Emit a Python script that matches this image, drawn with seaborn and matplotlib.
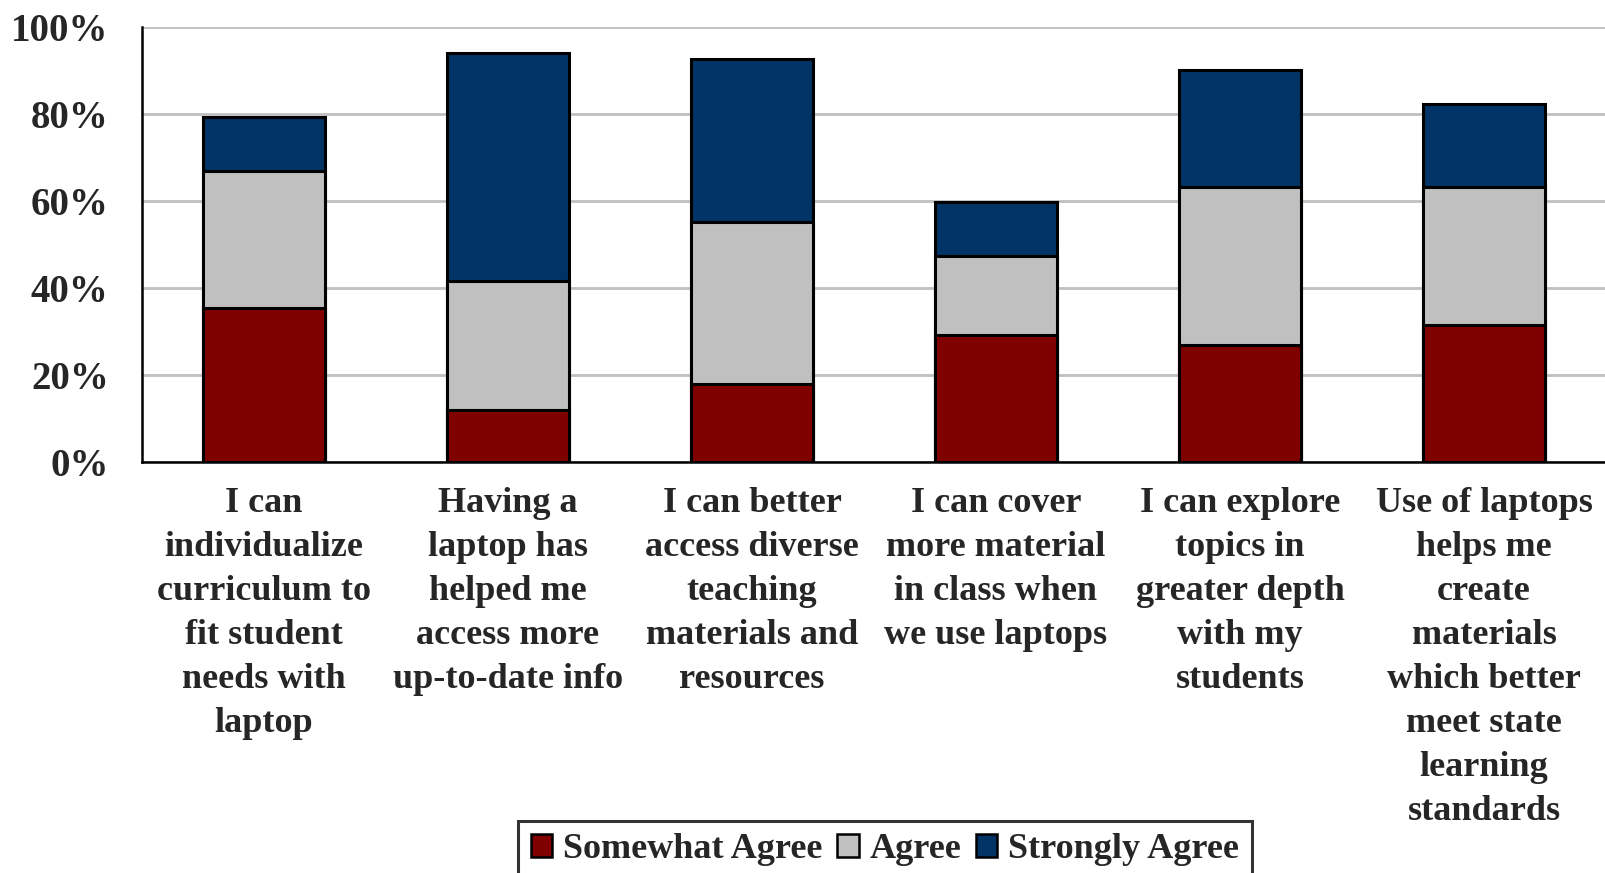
import matplotlib
matplotlib.use('Agg')
import matplotlib.pyplot as plt
import seaborn as sns
from matplotlib.patches import Patch

# Data (percent of teachers)
categories = [
    'I can\nindividualize\ncurriculum to\nfit student\nneeds with\nlaptop',
    'Having a\nlaptop has\nhelped me\naccess more\nup-to-date info',
    'I can better\naccess diverse\nteaching\nmaterials and\nresources',
    'I can cover\nmore material\nin class when\nwe use laptops',
    'I can explore\ntopics in\ngreater depth\nwith my\nstudents',
    'Use of laptops\nhelps me\ncreate\nmaterials\nwhich better\nmeet state\nlearning\nstandards',
]
somewhat_agree = [35.3, 12.0, 17.9, 29.2, 26.8, 31.4]
agree = [31.6, 29.7, 37.2, 18.1, 36.3, 31.9]
strongly_agree = [12.5, 52.3, 37.5, 12.5, 27.1, 19.1]
series_names = ['Somewhat Agree', 'Agree', 'Strongly Agree']
colors = ['#800000', '#C0C0C0', '#003366']
yticks = [0, 20, 40, 60, 80, 100]

sns.set_style('white')
plt.rcParams['font.family'] = ['Liberation Serif', 'DejaVu Serif']
plt.rcParams['font.weight'] = 'bold'

# cumulative heights, drawn tallest first so the lower layers sit on top
level1 = somewhat_agree
level2 = [a + b for a, b in zip(somewhat_agree, agree)]
level3 = [a + b for a, b in zip(level2, strongly_agree)]
xs = list(range(len(categories)))

fig = plt.figure(figsize=(16.06, 8.73), dpi=100)
ax = fig.add_axes([0.0884, 0.4708, 0.9116, 0.4983])

for heights, col in zip([level3, level2, level1], colors[::-1]):
    sns.barplot(x=xs, y=heights, color=col, saturation=1, width=0.5,
                edgecolor='black', linewidth=2.2, ax=ax, native_scale=True, zorder=3)

ax.set_xlim(-0.5, len(categories) - 0.5)
ax.set_ylim(0, 100)
ax.set_yticks(yticks)
ax.set_yticklabels([f'{v}%' for v in yticks], fontweight='bold')
ax.yaxis.grid(True, color='#c0c0c0', linewidth=2, zorder=0)
ax.set_axisbelow(True)

# ticks on category boundaries, labels centred under each bar
ax.set_xticks([x - 0.5 for x in range(len(categories) + 1)])
ax.set_xticklabels([])
ax.set_xticks(xs, minor=True)
ax.set_xticklabels(categories, minor=True, fontsize=26, fontweight='bold',
                   linespacing=1.44, va='top')
ax.tick_params(axis='x', which='major', direction='out', length=10, width=1.8, color='black')
ax.tick_params(axis='x', which='minor', length=0, pad=18)
ax.tick_params(axis='y', direction='out', length=12, width=1.8, color='black',
               labelsize=28, pad=12)

for side in ['top', 'right']:
    ax.spines[side].set_visible(False)
for side in ['left', 'bottom']:
    ax.spines[side].set_color('black')
    ax.spines[side].set_linewidth(1.8)
ax.set_xlabel('')
ax.set_ylabel('')

handles = [Patch(facecolor=c, edgecolor='black', linewidth=1.8) for c in colors]
leg = fig.legend(handles, series_names, loc='upper center', ncol=3,
                 bbox_to_anchor=(0.551, 0.06), frameon=True,
                 prop={'size': 26, 'weight': 'bold'},
                 fancybox=False, edgecolor='black', handlelength=0.6,
                 handleheight=0.6, handletextpad=0.3, columnspacing=0.4,
                 borderpad=0.35, borderaxespad=0)
leg.get_frame().set_linewidth(2.2)

fig.savefig('out.png', dpi=100)
